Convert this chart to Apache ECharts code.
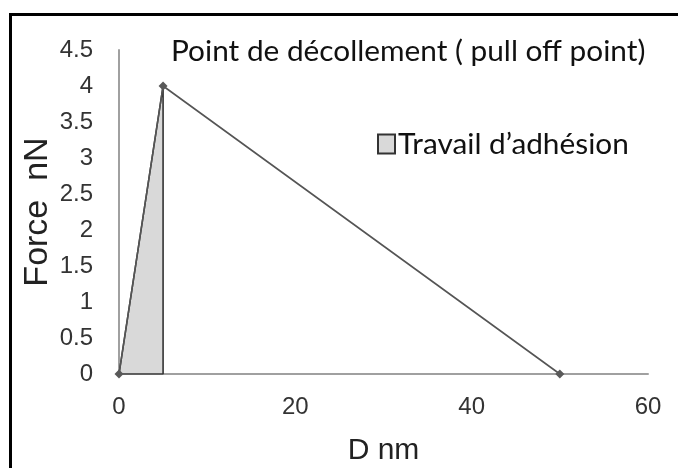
<!DOCTYPE html>
<html>
<head>
<meta charset="utf-8">
<script src="https://cdn.jsdelivr.net/npm/echarts@6/dist/echarts.min.js"></script>
<style>
  html, body { margin: 0; padding: 0; background: #fff; }
  #chart { width: 678px; height: 468px; }
</style>
</head>
<body>
<div id="chart"></div>
<script>
// Force–distance curve (nN vs nm)
const distance = [0, 5, 50];
const force = [0, 4, 0];

// Shaded work-of-adhesion region
const areaDistance = [0, 5, 5, 0];
const areaForce = [0, 4, 0, 0];

const xTicks = { min: 0, max: 60, interval: 20 };
const yTicks = { min: 0, max: 4.5, interval: 0.5 };

const titleText = 'Point de décollement ( pull off point)';
const areaName = 'Travail d’adhésion';
const yTitle = 'Force  nN';

const chart = echarts.init(document.getElementById('chart'), null, { renderer: 'canvas' });

chart.setOption({
  backgroundColor: '#fff',
  animation: false,
  title: {
    text: titleText,
    left: 166,
    top: 31,
    textStyle: { fontFamily: 'Lato', fontSize: 29.8, fontWeight: 'normal', color: '#111' }
  },
  legend: {
    left: 372,
    top: 124,
    icon: 'rect',
    itemWidth: 17,
    itemHeight: 19,
    itemGap: 6,
    data: [areaName],
    textStyle: { fontFamily: 'Lato', fontSize: 29.8, color: '#111', padding: [0, 0, 0, -2] }
  },
  grid: { left: 119, right: 30, top: 50, bottom: 94, containLabel: false, outerBoundsMode: 'none' },
  xAxis: {
    type: 'value',
    min: xTicks.min, max: xTicks.max, interval: xTicks.interval,
    name: 'D nm',
    nameLocation: 'middle',
    nameGap: 62,
    nameMoveOverlap: false,
    nameTextStyle: { fontFamily: 'Liberation Sans', fontSize: 30, color: '#222' },
    axisLine: { show: true, onZero: false, lineStyle: { color: '#a0a0a0', width: 2 } },
    axisTick: { show: false },
    splitLine: { show: false },
    axisLabel: { fontFamily: 'Liberation Sans', fontSize: 24, color: '#333', margin: 21 }
  },
  yAxis: {
    type: 'value',
    min: yTicks.min, max: yTicks.max, interval: yTicks.interval,
    axisLine: { show: true, lineStyle: { color: '#a0a0a0', width: 2 } },
    axisTick: { show: false },
    splitLine: { show: false },
    axisLabel: { fontFamily: 'Liberation Sans', fontSize: 24, color: '#333', margin: 26 }
  },
  series: [
    {
      name: areaName,
      type: 'line',
      data: areaDistance.map((d, i) => [d, areaForce[i]]),
      symbol: 'none',
      lineStyle: { color: '#333', width: 1.6 },
      itemStyle: { color: '#d9d9d9', borderColor: '#333', borderWidth: 1.5 },
      areaStyle: { color: '#d9d9d9', opacity: 1 },
      z: 2
    },
    {
      name: 'courbe',
      type: 'line',
      data: distance.map((d, i) => [d, force[i]]),
      symbol: 'diamond',
      symbolSize: 9,
      itemStyle: { color: '#595959' },
      lineStyle: { color: '#555', width: 1.6 },
      z: 3
    }
  ],
  graphic: [
    {
      // vertical axis title
      type: 'text',
      x: 38,
      y: 212,
      rotation: Math.PI / 2,
      style: {
        text: yTitle,
        fontFamily: 'Liberation Sans',
        fontSize: 34,
        fill: '#222',
        align: 'center',
        verticalAlign: 'middle'
      },
      silent: true
    },
    {
      type: 'rect',
      shape: { x: 10.5, y: 14.5, width: 690, height: 470 },
      style: { fill: null, stroke: '#000', lineWidth: 3 },
      silent: true,
      z: 10
    }
  ]
});
</script>
</body>
</html>
